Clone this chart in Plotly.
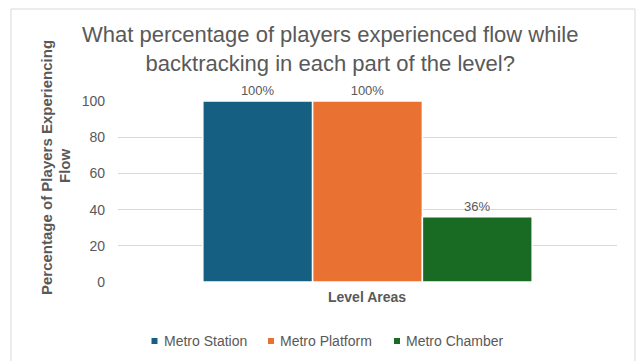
import plotly.graph_objects as go

# Data
category = ["Level Areas"]
series_names = ["Metro Station", "Metro Platform", "Metro Chamber"]
series_values = [100, 100, 36]
series_colors = ["#156082", "#E97132", "#196B24"]
y_ticks = [0, 20, 40, 60, 80, 100]
chart_title = ("What percentage of players experienced flow while<br>"
               "backtracking in each part of the level?")
y_title_lines = ["Percentage of Players Experiencing", "Flow"]

TEXT = "#595959"
SANS = "Liberation Sans, Arial, sans-serif"

# Plot area in pixels (used to convert to paper coordinates)
W, H = 638, 361
L, R, T, B = 118, 21, 101, 79
pw, ph = W - L - R, H - T - B


def px_x(p):
    return (p - L) / pw


def px_y(p):
    return (H - B - p) / ph


fig = go.Figure()
for name, val, col in zip(series_names, series_values, series_colors):
    fig.add_trace(go.Bar(
        x=[category[0]], y=[val], name=name,
        marker=dict(color=col, line=dict(color="white", width=1.5)),
        text=[f"{val}%"], textposition="outside",
        textfont=dict(family=SANS, size=13, color=TEXT),
        cliponaxis=False, showlegend=False,
    ))

fig.update_layout(
    width=W, height=H,
    margin=dict(l=L, r=R, t=T, b=B, autoexpand=False),
    paper_bgcolor="white", plot_bgcolor="white",
    barmode="group", bargap=0.34, bargroupgap=0,
    xaxis=dict(showticklabels=False, showgrid=False, zeroline=False,
               showline=False, ticks=""),
    yaxis=dict(range=[0, 100], tickvals=y_ticks, showgrid=True,
               gridcolor="#D9D9D9", gridwidth=1, zeroline=False,
               showline=False, ticks="",
               tickfont=dict(family=SANS, size=14, color=TEXT),
               ticklabelstandoff=12),
)

# Chart title
fig.add_annotation(
    text=chart_title, xref="paper", yref="paper", x=px_x(330), y=px_y(49),
    xanchor="center", yanchor="middle", showarrow=False,
    font=dict(family=SANS, size=22, color=TEXT),
)

# Y axis title (two rotated lines)
for line, xc, yc in zip(y_title_lines, [46, 64], [168, 166]):
    fig.add_annotation(
        text=f"<b>{line}</b>",
        xref="paper", yref="paper", x=px_x(xc), y=px_y(yc),
        xanchor="center", yanchor="middle", textangle=-90, showarrow=False,
        font=dict(family=SANS, size=15, color=TEXT),
    )

# X axis title
fig.add_annotation(
    text=f"<b>{category[0]}</b>",
    xref="paper", yref="paper", x=px_x(367), y=px_y(297),
    xanchor="center", yanchor="middle", showarrow=False,
    font=dict(family=SANS, size=14, color=TEXT),
)

# Legend: small square swatches with labels
legend_marker_x = [154.5, 271, 397]
legend_y = 341
for name, col, mx in zip(series_names, series_colors, legend_marker_x):
    fig.add_shape(type="rect", xref="paper", yref="paper",
                  x0=px_x(mx - 3), x1=px_x(mx + 3),
                  y0=px_y(legend_y + 3), y1=px_y(legend_y - 3),
                  fillcolor=col, line=dict(width=0))
    fig.add_annotation(
        text=name, xref="paper", yref="paper", x=px_x(mx + 7), y=px_y(legend_y),
        xanchor="left", yanchor="middle", showarrow=False,
        font=dict(family=SANS, size=14, color=TEXT),
    )

# Chart frame
fig.add_shape(type="rect", xref="paper", yref="paper",
              x0=px_x(11), x1=px_x(635), y0=px_y(375), y1=px_y(9),
              line=dict(color="#D9D9D9", width=1), layer="below")

fig.write_html("out.html")
